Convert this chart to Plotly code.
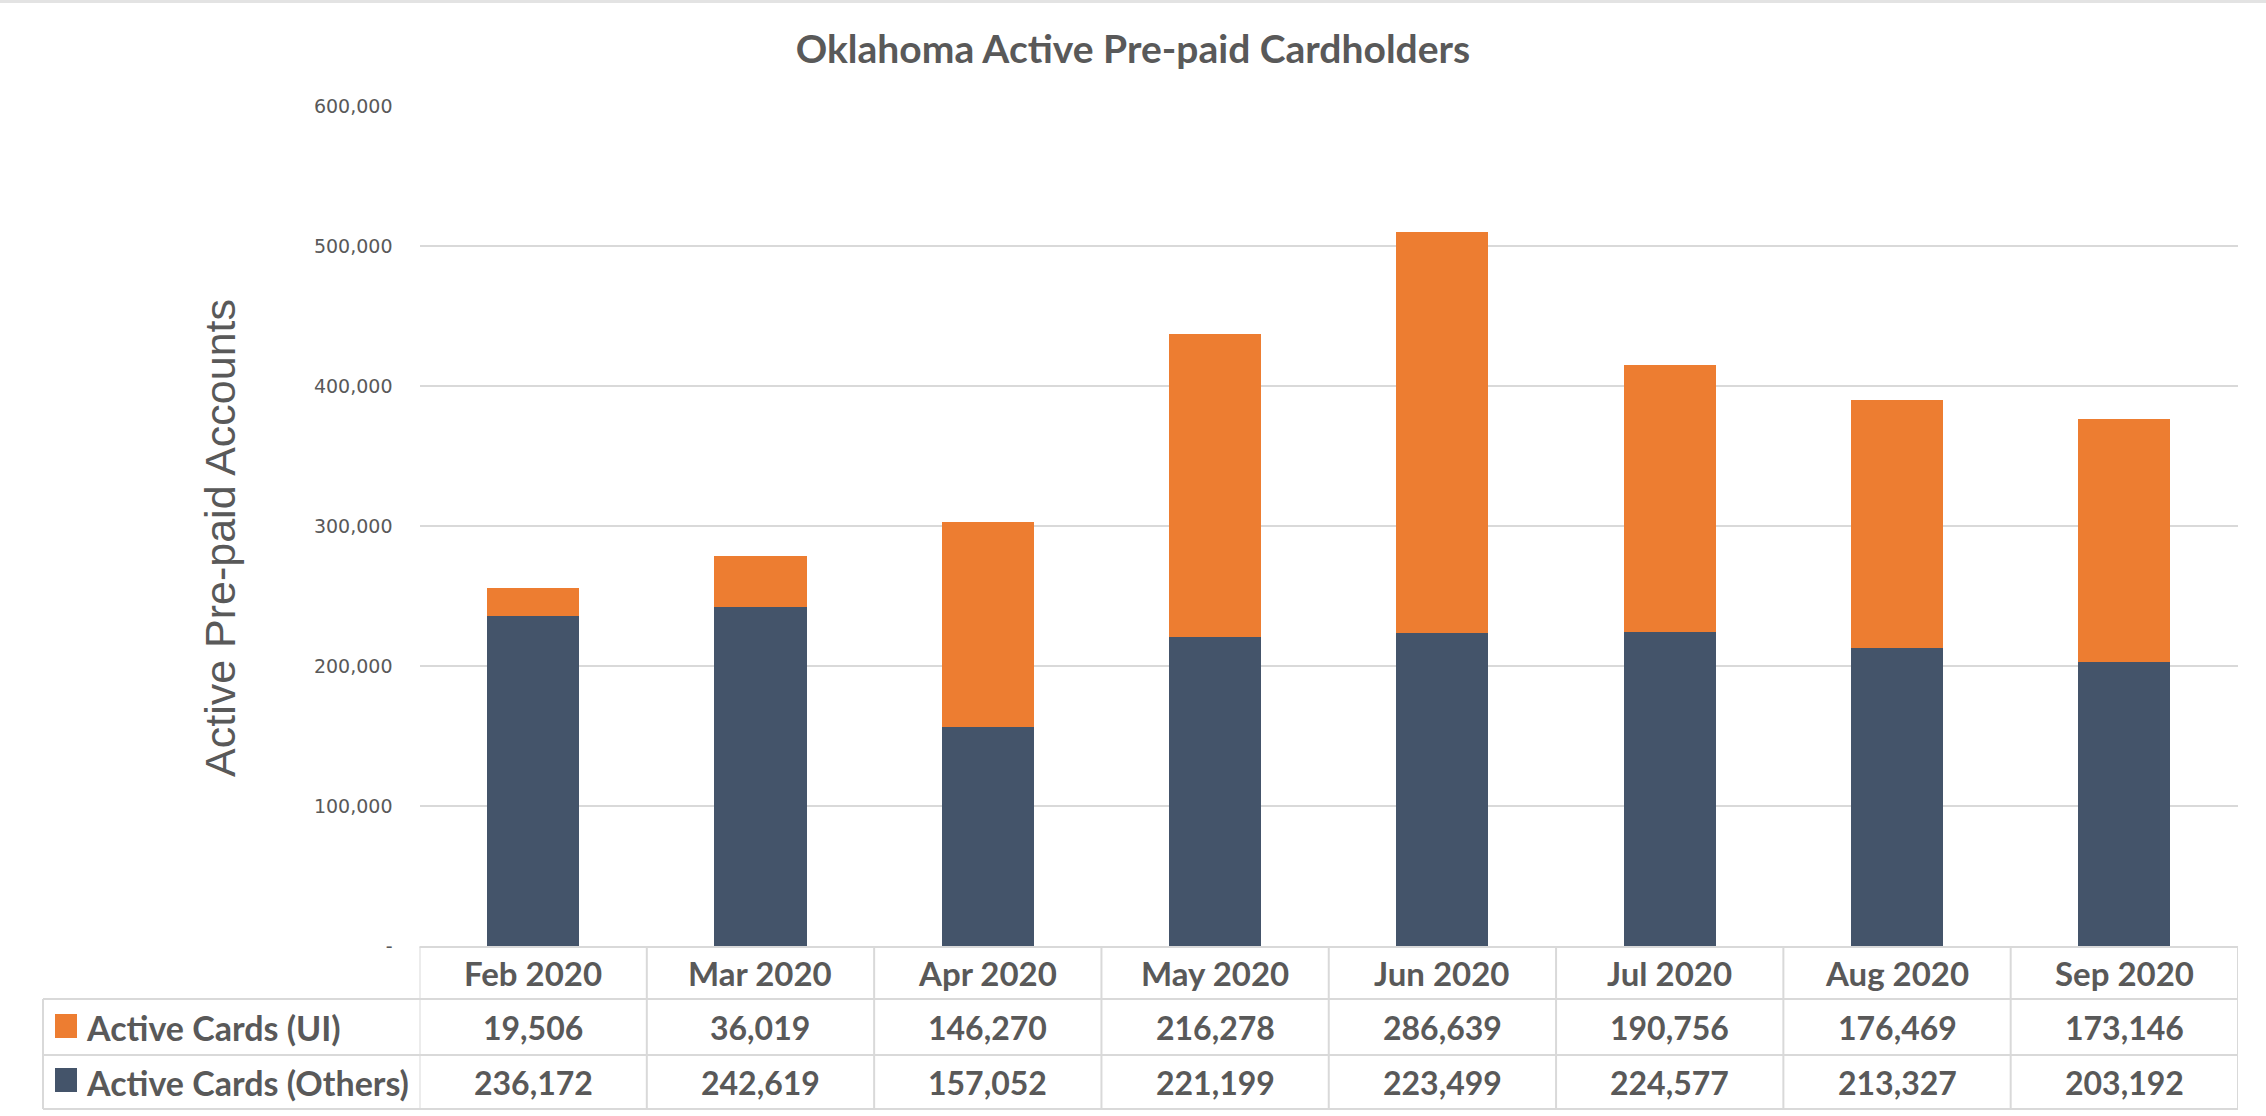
import plotly.graph_objects as go

months = ["Feb 2020", "Mar 2020", "Apr 2020", "May 2020", "Jun 2020", "Jul 2020", "Aug 2020", "Sep 2020"]
ui_cards = [19506, 36019, 146270, 216278, 286639, 190756, 176469, 173146]
other_cards = [236172, 242619, 157052, 221199, 223499, 224577, 213327, 203192]
series_names = ["Active Cards (UI)", "Active Cards (Others)"]
y_tickvals = [0, 100000, 200000, 300000, 400000, 500000, 600000]
y_ticktext = ["-", "100,000", "200,000", "300,000", "400,000", "500,000", "600,000"]

W, H = 2266, 1116
ORANGE = "#ED7D31"
NAVY = "#44546A"
TXT = "#595959"
GRID = "#d9d9d9"

def px(x):
    return x / W

def py(y):
    return (H - y) / H

plot_left, plot_right = 419.5, 2238
plot_top, plot_bottom = 106.0, 946.5

fig = go.Figure()
fig.add_trace(go.Bar(x=months, y=other_cards, name=series_names[1], marker=dict(color=NAVY, line=dict(width=0))))
fig.add_trace(go.Bar(x=months, y=ui_cards, name=series_names[0], marker=dict(color=ORANGE, line=dict(width=0))))

fig.update_layout(
    width=W, height=H,
    margin=dict(l=0, r=0, t=0, b=0, autoexpand=False),
    paper_bgcolor="white", plot_bgcolor="white",
    barmode="stack", bargap=0.595,
    showlegend=False,
    title=dict(text="<b>Oklahoma Active Pre-paid Cardholders</b>", x=0.5, xanchor="center",
               y=py(49), yanchor="middle", font=dict(family="Lato", size=39, color=TXT)),
    xaxis=dict(domain=[px(plot_left), px(plot_right)], range=[-0.5, len(months) - 0.5],
               showticklabels=False, showgrid=False, zeroline=False, showline=False, ticks="",
               automargin=False),
    yaxis=dict(domain=[py(plot_bottom), py(plot_top)], range=[0, 600000], automargin=False,
               tickvals=y_tickvals, ticktext=y_ticktext, showgrid=True, gridcolor=GRID, gridwidth=2,
               zeroline=False, showline=False, ticks="", ticklabelstandoff=26,
               tickfont=dict(family="DejaVu Sans", size=19, color=TXT)),
)

ann = []
# y-axis title
ann.append(dict(text="Active Pre-paid Accounts", xref="paper", yref="paper", x=px(220), y=py(538),
                textangle=-90, showarrow=False, xanchor="center", yanchor="middle",
                font=dict(family="Liberation Sans", size=43, color=TXT)))

row_hdr_y, row1_y, row2_y = 973, 1027, 1082
for i, m in enumerate(months):
    ann.append(dict(text="<b>%s</b>" % m, xref="x", yref="paper", x=m, y=py(row_hdr_y), showarrow=False,
                    xanchor="center", yanchor="middle", font=dict(family="Lato", size=33, color=TXT)))
    ann.append(dict(text="<b>{:,}</b>".format(ui_cards[i]), xref="x", yref="paper", x=m, y=py(row1_y),
                    showarrow=False, xanchor="center", yanchor="middle",
                    font=dict(family="Lato", size=32, color=TXT)))
    ann.append(dict(text="<b>{:,}</b>".format(other_cards[i]), xref="x", yref="paper", x=m, y=py(row2_y),
                    showarrow=False, xanchor="center", yanchor="middle",
                    font=dict(family="Lato", size=32, color=TXT)))

for name, yy in [(series_names[0], row1_y), (series_names[1], row2_y)]:
    ann.append(dict(text="<b>%s</b>" % name, xref="paper", yref="paper", x=px(84), y=py(yy),
                    showarrow=False, xanchor="left", yanchor="middle",
                    font=dict(family="Lato", size=34, color=TXT)))

shapes = []
line = dict(color=GRID, width=2)
# top frame line
shapes.append(dict(type="line", xref="paper", yref="paper", x0=0, x1=1, y0=py(1.5), y1=py(1.5),
                   line=dict(color="#e3e3e3", width=3)))
# horizontal table lines
shapes.append(dict(type="line", xref="paper", yref="paper", x0=px(plot_left), x1=px(plot_right),
                   y0=py(947), y1=py(947), line=line))
for yy in [999, 1055, 1109]:
    shapes.append(dict(type="line", xref="paper", yref="paper", x0=px(43), x1=px(plot_right),
                       y0=py(yy), y1=py(yy), line=line))
# left border of legend column
shapes.append(dict(type="line", xref="paper", yref="paper", x0=px(43), x1=px(43),
                   y0=py(999), y1=py(1109), line=line))
# column boundaries
for k in range(len(months) + 1):
    shapes.append(dict(type="line", xref="x", yref="paper", x0=k - 0.5, x1=k - 0.5,
                       y0=py(947), y1=py(1109), line=line))
# legend swatches
shapes.append(dict(type="rect", xref="paper", yref="paper", x0=px(55), x1=px(77), y0=py(1038), y1=py(1014),
                   fillcolor=ORANGE, line=dict(width=0)))
shapes.append(dict(type="rect", xref="paper", yref="paper", x0=px(55), x1=px(77), y0=py(1092), y1=py(1068),
                   fillcolor=NAVY, line=dict(width=0)))

fig.update_layout(annotations=ann, shapes=shapes)
fig.write_html("out.html", config={"displayModeBar": False},
               post_script="document.body.style.margin='0';document.body.style.overflow='hidden';")
